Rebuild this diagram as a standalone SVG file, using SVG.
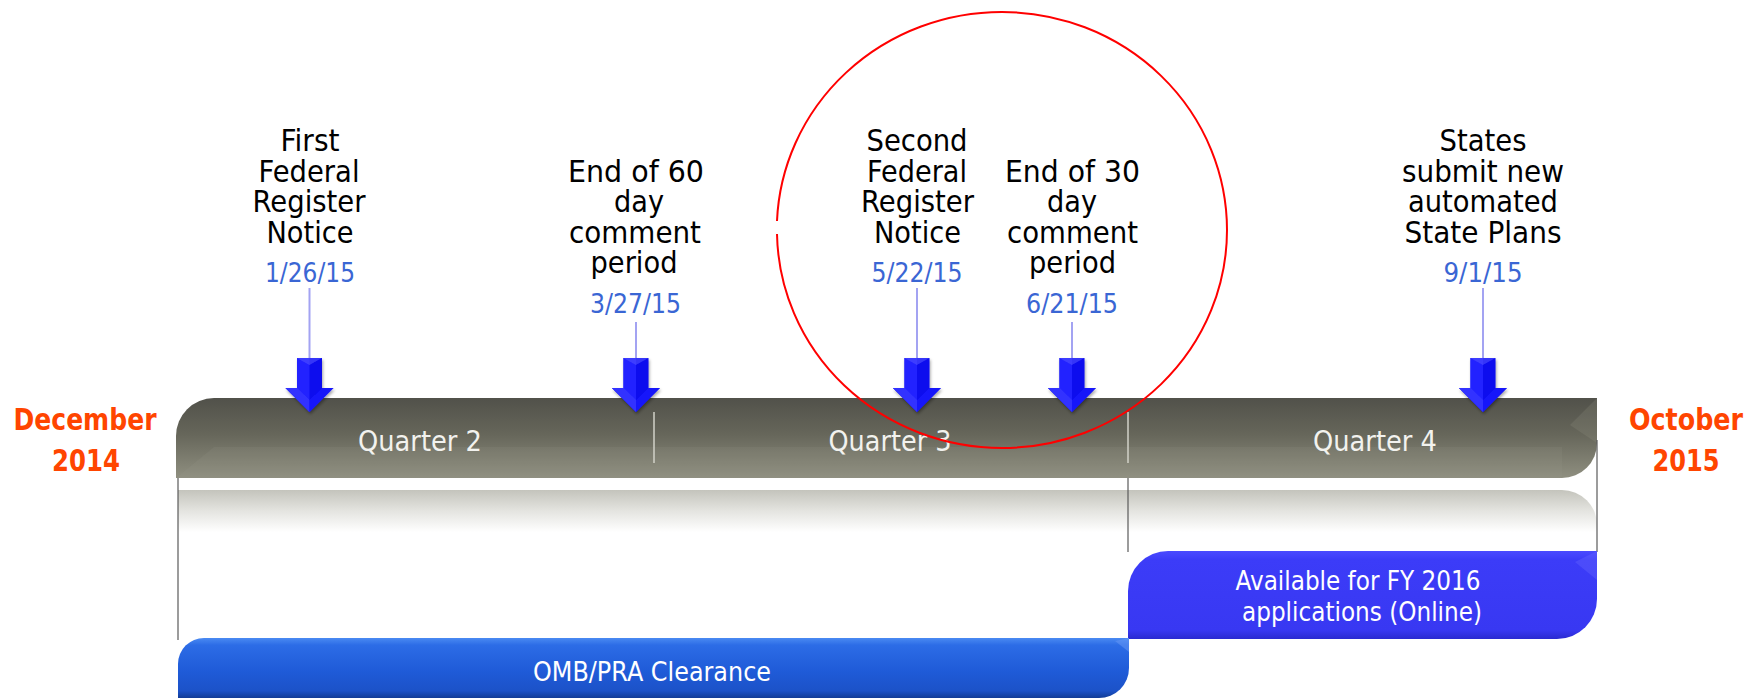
<svg xmlns="http://www.w3.org/2000/svg" xmlns:xlink="http://www.w3.org/1999/xlink" width="1761" height="698" viewBox="0 0 1761 698">
<style>
text{font-family:"DejaVu Sans",Verdana,"Liberation Sans",sans-serif;text-anchor:middle}
.lbl{font-size:30px;fill:#000}
.date{font-size:26px;fill:#3a66d4}
.edge{font-size:30px;font-weight:bold;fill:#ff4500}
.qtr{font-size:28px;fill:#f2f2ee}
.bar{font-size:26px;fill:#fff}
.conn{stroke:#a3a3f2;stroke-width:2;fill:none}
.vl{stroke:#5a5a5a;stroke-width:1.2;fill:none}
.qdiv{stroke:#d2d2c8;stroke-width:1.5}
</style>
<defs>
<linearGradient id="gMain" x1="0" y1="0" x2="0" y2="1">
<stop offset="0" stop-color="#51514a"/>
<stop offset="0.45" stop-color="#66665a"/>
<stop offset="1" stop-color="#8f8f80"/>
</linearGradient>
<linearGradient id="gRefl" x1="0" y1="0" x2="0" y2="1">
<stop offset="0" stop-color="#c4c4bc"/>
<stop offset="0.5" stop-color="#e4e4e0"/>
<stop offset="1" stop-color="#ffffff"/>
</linearGradient>
<linearGradient id="gOmb" x1="0" y1="0" x2="0" y2="1">
<stop offset="0" stop-color="#4a8af2"/>
<stop offset="0.12" stop-color="#2c6ce6"/>
<stop offset="0.55" stop-color="#1f5bd8"/>
<stop offset="0.88" stop-color="#1c52c8"/>
<stop offset="1" stop-color="#123c96"/>
</linearGradient>
<linearGradient id="gAvail" x1="0" y1="0" x2="0" y2="1">
<stop offset="0" stop-color="#4a4aff"/>
<stop offset="0.1" stop-color="#3c3cf8"/>
<stop offset="0.9" stop-color="#3838f2"/>
<stop offset="1" stop-color="#2a2ad0"/>
</linearGradient>
<filter id="sh" x="-30%" y="-30%" width="160%" height="160%">
<feDropShadow dx="1" dy="2" stdDeviation="1.5" flood-color="#000" flood-opacity="0.35"/>
</filter>
<g id="arrow" filter="url(#sh)">
<path d="M-12.5,358 H12.5 V388 H24 L0,412 L-24,388 H-12.5 Z" fill="#0a0aee"/>
<path d="M-12.5,358 H0 V412 L-24,388 H-12.5 Z" fill="#2424ff"/>
<path d="M-12.5,358 H12.5 L0,365 Z" fill="#5050ff" opacity="0.6"/>
<path d="M-24,388 H-12.5 L0,400 V412 Z" fill="#3a3aff" opacity="0.7"/>
<path d="M24,388 H12.5 L0,400 V412 Z" fill="#1a1aff" opacity="0.7"/>
</g>
</defs>

<g id="timeline-bar">
<path d="M176,478 V436 A38,38 0 0 1 214,398 H1597 V443 A35,35 0 0 1 1562,478 Z" fill="url(#gMain)"/>
<path d="M176,478 L214,447 H1562 L1562,478 Z" fill="#9a9a8a" opacity="0.15"/>
<path d="M1597,398 L1597,443 L1570,425 Z" fill="#a0a090" opacity="0.18"/>
<line class="qdiv" x1="654" y1="412" x2="654" y2="463"/>
<line class="qdiv" x1="1128" y1="412" x2="1128" y2="463"/>
<text class="qtr" x="420" y="451" textLength="124" lengthAdjust="spacingAndGlyphs">Quarter 2</text>
<text class="qtr" x="890" y="451" textLength="123" lengthAdjust="spacingAndGlyphs">Quarter 3</text>
<text class="qtr" x="1375" y="451" textLength="124" lengthAdjust="spacingAndGlyphs">Quarter 4</text>
</g>

<g id="reflection">
<path d="M178,490 H1562 A35,35 0 0 1 1597,525 V532 H178 Z" fill="url(#gRefl)"/>
</g>

<g id="guides">
<line class="vl" x1="178" y1="478" x2="178" y2="640"/>
<line class="vl" x1="1128" y1="478" x2="1128" y2="552"/>
<line class="vl" x1="1597" y1="440" x2="1597" y2="552"/>
</g>

<g id="start-date">
<text class="edge" x="85" y="430" textLength="143" lengthAdjust="spacingAndGlyphs">December</text>
<text class="edge" x="86" y="471" textLength="68" lengthAdjust="spacingAndGlyphs">2014</text>
</g>
<g id="end-date">
<text class="edge" x="1686" y="430" textLength="114" lengthAdjust="spacingAndGlyphs">October</text>
<text class="edge" x="1686" y="471" textLength="67" lengthAdjust="spacingAndGlyphs">2015</text>
</g>

<g id="connectors">
<line class="conn" x1="309.5" y1="288" x2="309.5" y2="358"/>
<line class="conn" x1="636" y1="322" x2="636" y2="358"/>
<line class="conn" x1="917" y1="288" x2="917" y2="358"/>
<line class="conn" x1="1072" y1="322" x2="1072" y2="358"/>
<line class="conn" x1="1483" y1="288" x2="1483" y2="358"/>
</g>

<g id="event-first-notice">
<text class="lbl" x="310" y="151" textLength="59" lengthAdjust="spacingAndGlyphs">First</text>
<text class="lbl" x="309" y="181.5" textLength="101" lengthAdjust="spacingAndGlyphs">Federal</text>
<text class="lbl" x="309" y="212" textLength="113" lengthAdjust="spacingAndGlyphs">Register</text>
<text class="lbl" x="310" y="242.5" textLength="87" lengthAdjust="spacingAndGlyphs">Notice</text>
<text class="date" x="310" y="282" textLength="90" lengthAdjust="spacingAndGlyphs">1/26/15</text>
<use xlink:href="#arrow" href="#arrow" x="309.5" y="0"/>
</g>

<g id="event-end-60">
<text class="lbl" x="636" y="181.5" textLength="136" lengthAdjust="spacingAndGlyphs">End of 60</text>
<text class="lbl" x="639" y="212" textLength="50" lengthAdjust="spacingAndGlyphs">day</text>
<text class="lbl" x="635" y="242.5" textLength="132" lengthAdjust="spacingAndGlyphs">comment</text>
<text class="lbl" x="634" y="273" textLength="87" lengthAdjust="spacingAndGlyphs">period</text>
<text class="date" x="635.5" y="313" textLength="91" lengthAdjust="spacingAndGlyphs">3/27/15</text>
<use xlink:href="#arrow" href="#arrow" x="636" y="0"/>
</g>

<g id="event-second-notice">
<text class="lbl" x="917" y="151" textLength="101" lengthAdjust="spacingAndGlyphs">Second</text>
<text class="lbl" x="917" y="181.5" textLength="100" lengthAdjust="spacingAndGlyphs">Federal</text>
<text class="lbl" x="917.5" y="212" textLength="113" lengthAdjust="spacingAndGlyphs">Register</text>
<text class="lbl" x="917.5" y="242.5" textLength="87" lengthAdjust="spacingAndGlyphs">Notice</text>
<text class="date" x="917" y="282" textLength="91" lengthAdjust="spacingAndGlyphs">5/22/15</text>
<use xlink:href="#arrow" href="#arrow" x="917" y="0"/>
</g>

<g id="event-end-30">
<text class="lbl" x="1072.5" y="181.5" textLength="135" lengthAdjust="spacingAndGlyphs">End of 30</text>
<text class="lbl" x="1072" y="212" textLength="50" lengthAdjust="spacingAndGlyphs">day</text>
<text class="lbl" x="1072.5" y="242.5" textLength="131" lengthAdjust="spacingAndGlyphs">comment</text>
<text class="lbl" x="1072.5" y="273" textLength="87" lengthAdjust="spacingAndGlyphs">period</text>
<text class="date" x="1072" y="313" textLength="92" lengthAdjust="spacingAndGlyphs">6/21/15</text>
<use xlink:href="#arrow" href="#arrow" x="1072" y="0"/>
</g>

<g id="event-state-plans">
<text class="lbl" x="1483" y="151" textLength="87" lengthAdjust="spacingAndGlyphs">States</text>
<text class="lbl" x="1483" y="181.5" textLength="162" lengthAdjust="spacingAndGlyphs">submit new</text>
<text class="lbl" x="1483" y="212" textLength="150" lengthAdjust="spacingAndGlyphs">automated</text>
<text class="lbl" x="1483" y="242.5" textLength="157" lengthAdjust="spacingAndGlyphs">State Plans</text>
<text class="date" x="1483" y="282" textLength="79" lengthAdjust="spacingAndGlyphs">9/1/15</text>
<use xlink:href="#arrow" href="#arrow" x="1483" y="0"/>
</g>

<g id="available-online">
<path d="M1128,639 V591 A40,40 0 0 1 1168,551 H1597 V599 A40,40 0 0 1 1557,639 Z" fill="url(#gAvail)"/>
<path d="M1597,551 V580 L1575,562 Z" fill="#6a6aff" opacity="0.35"/>
<text class="bar" x="1358" y="590" textLength="245" lengthAdjust="spacingAndGlyphs">Available for FY 2016</text>
<text class="bar" x="1362" y="621" textLength="240" lengthAdjust="spacingAndGlyphs">applications (Online)</text>
</g>

<g id="omb-clearance">
<path d="M178,698 V664 A26,26 0 0 1 204,638 H1129 V668 A30,30 0 0 1 1099,698 Z" fill="url(#gOmb)"/>
<path d="M1129,638 V652 L1115,641 Z" fill="#6a9af5" opacity="0.5"/>
<text class="bar" x="652" y="681" textLength="238" lengthAdjust="spacingAndGlyphs">OMB/PRA Clearance</text>
</g>

<g id="highlight-circle">
<path d="M777,234 A225,218 0 0 0 1002,448 A225,218 0 0 0 1227,230 A225,218 0 0 0 1002,12 A225,218 0 0 0 777,221" fill="none" stroke="#ff0000" stroke-width="2"/>
</g>
</svg>
